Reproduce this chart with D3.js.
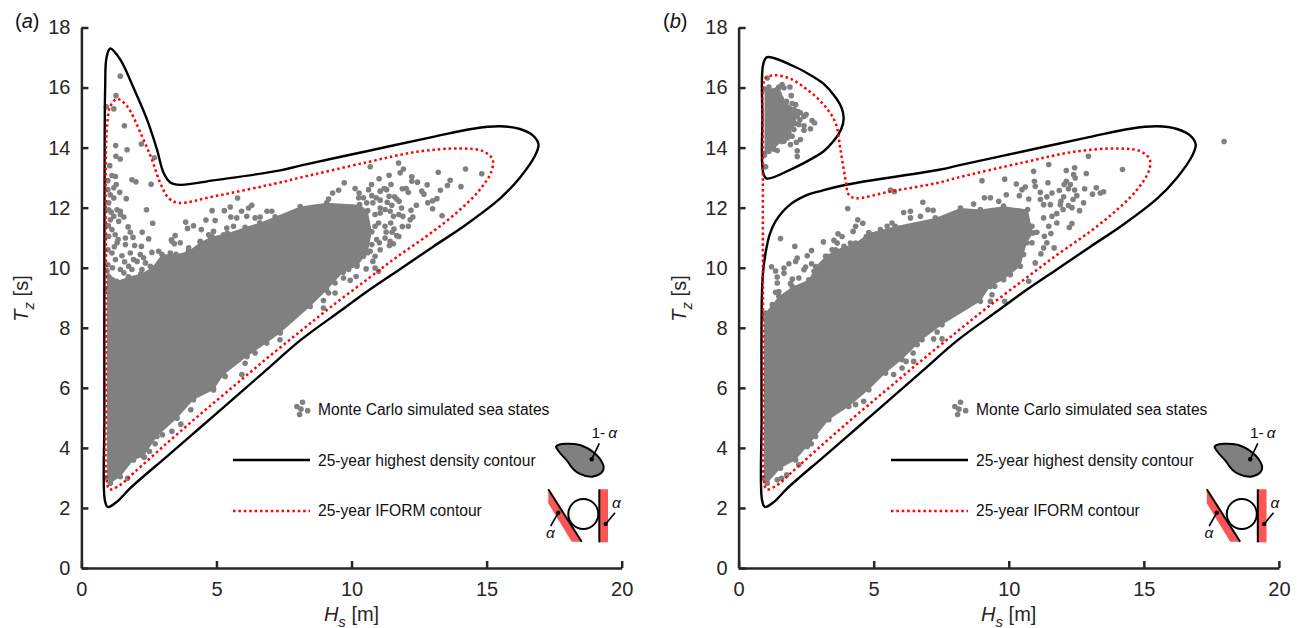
<!DOCTYPE html>
<html><head><meta charset="utf-8">
<script src="https://cdn.jsdelivr.net/npm/d3@7"></script>
<style>html,body{margin:0;padding:0;background:#fff;overflow:hidden}svg{display:block}text{font-family:"Liberation Sans",Arial,sans-serif}</style>
</head><body><svg id="c" width="1301" height="628"></svg>
<script>
const xTicks=[0,5,10,15,20], yTicks=[0,2,4,6,8,10,12,14,16,18];
const legendLabels=["Monte Carlo simulated sea states","25-year highest density contour","25-year IFORM contour"];
const legendDots=[[8.18,5.52],[7.97,5.38],[8.37,5.24],[8.12,5.29],[8.07,5.11]];

const hdcA=[[.98,2.03],[.87,2.25],[.85,5],[.85,10],[.86,14],[.88,16],[.93,17],[1.07,17.3],[1.44,16.93],[1.93,15.99],[2.43,14.93],[2.8,13.93],[3.04,13.16],[3.29,12.84],[3.66,12.76],[4.89,12.91],[7.36,13.24],[8.1,13.4],[10.56,13.88],[13.02,14.36],[14.5,14.63],[15.49,14.71],[16.23,14.62],[16.72,14.4],[16.92,14.1],[16.78,13.71],[16.23,13.0],[15.49,12.3],[14.26,11.45],[13.02,10.7],[11.79,9.95],[10.56,9.2],[9.57,8.55],[8.1,7.58],[6.85,6.6],[5.62,5.63],[4.4,4.68],[3.17,3.72],[1.81,2.66],[1.32,2.21]];
const iformA=[[1.04,2.62],[.93,3],[.91,6],[.91,10],[.91,14],[.97,14.93],[1.07,15.38],[1.32,15.62],[1.69,15.38],[2.24,14.38],[2.61,13.6],[2.92,12.82],[3.23,12.32],[3.6,12.16],[4.88,12.37],[7.36,12.84],[8.1,13],[10.56,13.51],[12.41,13.86],[14.01,13.97],[14.87,13.88],[15.22,13.6],[15.18,13.21],[14.75,12.6],[14.01,11.93],[13.02,11.21],[11.79,10.43],[10.56,9.6],[9.2,8.67],[8.1,7.88],[6.85,6.97],[5.63,6.05],[4.4,5.12],[3.17,4.16],[1.93,3.16],[1.44,2.77]];
const hdcBMain=[[.98,2.03],[.87,2.25],[.85,5],[.86,9],[.9,9.8],[1.0,10.5],[1.15,11.1],[1.37,11.55],[1.86,12.07],[2.48,12.4],[3.1,12.57],[4.02,12.77],[7.47,13.27],[8.1,13.4],[10.56,13.88],[13.02,14.36],[14.5,14.63],[15.49,14.71],[16.23,14.62],[16.72,14.4],[16.92,14.1],[16.78,13.71],[16.23,13.0],[15.49,12.3],[14.26,11.45],[13.02,10.7],[11.79,9.95],[10.56,9.2],[9.57,8.55],[8.1,7.58],[6.85,6.6],[5.62,5.63],[4.4,4.68],[3.17,3.72],[1.81,2.66],[1.32,2.21]];
const hdcBIsland=[[1.06,17.01],[2.04,16.71],[2.65,16.42],[3.15,16.12],[3.55,15.72],[3.8,15.35],[3.89,14.99],[3.8,14.62],[3.5,14.2],[3.15,13.88],[2.65,13.6],[2.04,13.32],[1.04,12.97],[.91,13.16],[.88,15],[.91,16.77]];
const iformB=[[1.04,2.62],[.93,3],[.91,6],[.9,10],[.9,14],[.91,16.04],[1.0,16.32],[1.37,16.41],[1.92,16.29],[2.54,15.93],[3.15,15.43],[3.59,14.82],[3.77,13.93],[3.96,12.93],[4.08,12.43],[4.33,12.32],[5.62,12.54],[7.35,12.82],[8.1,13],[10.56,13.51],[12.41,13.86],[14.01,13.97],[14.87,13.88],[15.22,13.6],[15.18,13.21],[14.75,12.6],[14.01,11.93],[13.02,11.21],[11.79,10.43],[10.56,9.6],[9.2,8.67],[8.1,7.88],[6.85,6.97],[5.63,6.05],[4.4,5.12],[3.17,4.16],[1.93,3.16],[1.44,2.77]];

const denseA=[[.95,9.9],[1.3,9.55],[1.74,9.7],[2.2,9.8],[2.61,10.0],[2.98,10.45],[3.5,10.45],[3.96,10.55],[4.4,10.85],[4.83,11.04],[5.4,11.15],[6.06,11.35],[6.6,11.5],[7.17,11.7],[8.1,12.04],[9.08,12.16],[10.3,12.1],[10.6,11.9],[10.75,11.2],[10.6,10.5],[10.2,10.05],[9.69,9.85],[9.08,9.25],[8.47,8.71],[7.36,7.83],[6.86,7.49],[6.13,7.04],[5.26,6.43],[4.89,5.93],[4.15,5.6],[3.54,4.99],[2.8,4.38],[2.3,3.71],[1.93,3.6],[1.44,3.04],[1.07,2.82],[.95,3]];
const denseB=[[.94,8.3],[.99,8.49],[1.49,9.05],[1.99,9.37],[2.6,9.6],[2.85,10.04],[3.22,10.38],[3.59,10.6],[4.33,10.82],[4.82,11.16],[5.8,11.38],[7.28,11.66],[8.21,11.99],[8.95,11.94],[9.81,12.05],[10.7,11.94],[10.9,11.16],[10.67,10.83],[10.43,10.05],[9.81,9.6],[9.32,9.38],[8.95,8.88],[7.53,8.1],[6.79,7.6],[6.05,6.94],[5.44,6.49],[4.82,5.94],[4.08,5.38],[3.34,4.94],[2.85,4.38],[2.11,3.6],[1.55,3.32],[1.06,2.82],[.94,3]];
const denseIsland=[[.96,15.95],[1.5,16.0],[1.75,15.5],[2.2,15.2],[2.1,14.8],[1.8,14.4],[1.6,14.2],[1.3,13.95],[.96,13.75]];

const pointsA=[[1.44,16.38],[1.28,15.73],[1.2,15.29],[.92,15.36],[1.59,14.73],[1.27,14.07],[1.69,13.93],[2.22,14.12],[1.28,13.71],[1.44,13.62],[2.7,13.66],[1.05,13.4],[1.13,13.07],[1.26,13.04],[1.87,12.93],[2.02,12.86],[2.58,12.78],[1.29,12.77],[1.2,12.66],[1.42,12.51],[1.07,12.43],[1.2,12.32],[1.66,12.3],[1.01,12.16],[1.32,11.93],[1.44,11.88],[1.57,11.69],[1.2,11.71],[1.01,11.93],[1.07,11.6],[2.41,11.93],[2.64,11.48],[1.73,11.36],[1.81,11.18],[2.25,11.18],[1.91,11.01],[2.49,10.96],[3.47,11.07],[3.33,10.93],[3.86,11.52],[3.93,11.31],[4.15,11.4],[4.44,11.27],[4.61,11.59],[4.95,11.57],[4.84,11.9],[5.29,11.9],[5.51,12.02],[5.78,12.32],[5.93,11.88],[6.19,11.99],[6.31,12.08],[6.62,11.69],[6.87,11.88],[7.05,11.88],[5.53,11.69],[5.75,11.66],[6.12,11.71],[6.43,11.66],[4.89,11.21],[5.38,11.32],[5.63,11.38],[5.26,11.1],[4.77,11.04],[1.63,10.99],[1.36,10.94],[1.32,10.83],[1.63,10.77],[1.97,10.74],[2.22,10.71],[1.81,10.49],[2.18,10.44],[1.93,10.27],[2.06,10.21],[2.3,10.33],[2.61,10.51],[2.86,10.55],[3.29,10.49],[3.35,10.88],[3.44,10.8],[3.66,10.83],[3.97,10.66],[4.4,10.88],[4.71,11.1],[2.55,10.05],[2.37,10.16],[1.87,9.94],[1.57,9.83],[1.44,9.94],[2.24,9.94],[1.13,10.49],[1.26,10.27],[1.01,11.05],[1.13,11.27],[1.38,11.55],[1.44,11.77],[.96,9.3],[1,9.7],[1.15,9.6],[1.3,9.5],[.98,10.1],[1.15,10],[.98,10.6],[1.22,10.7],[1,11.4],[1.25,11.1],[1.5,10.4],[1.6,10.2],[1.75,10.05],[.98,12.6],[.98,12.9],[1.1,11.85],
[11.74,13.49],[10.69,13.36],[11.92,13.29],[11.8,13.16],[11.39,13.08],[11.02,12.96],[12.23,13.03],[12.23,12.88],[13.21,13.18],[14.22,13.29],[14.82,13.13],[12.44,12.85],[12.8,12.76],[13.65,12.91],[13.55,12.74],[14.05,12.7],[13.29,12.58],[9.73,12.83],[9.52,12.58],[10.13,12.64],[9.3,12.49],[9.15,12.29],[10.28,12.49],[10.63,12.6],[10.74,12.77],[11.06,12.55],[11.21,12.64],[11.3,12.6],[11.46,12.77],[11.88,12.63],[12.02,12.64],[12.1,12.51],[12.6,12.55],[12.68,12.45],[13.16,12.3],[13,12.23],[12.82,12.16],[13,11.96],[12.4,12.08],[11.85,11.99],[13.35,11.73],[12.2,11.91],[12.27,11.69],[12.17,11.6],[11.9,11.71],[11.75,11.77],[11.59,12.36],[11.67,12.29],[11.76,12.21],[11.39,12.38],[11.32,12.18],[11.49,12.08],[10.75,12.4],[10.91,12.33],[11.06,12.25],[10.26,12.33],[10.44,12.33],[10.56,12.16],[10.79,12.16],[11.06,11.99],[11.24,11.94],[11.43,11.88],[10.87,11.77],[11.06,11.82],[11.55,11.71],[11,11.49],[10.87,11.38],[11.24,11.38],[11.45,11.49],[11.57,11.29],[11.88,11.37],[12.1,11.38],[11.28,11.19],[11.5,11.18],[11.67,11.07],[11.75,11.04],[11.24,10.99],[10.93,10.94],[11.03,10.83],[11.43,10.88],[11.4,10.74],[11.55,10.8],[10.75,10.77],[11.06,10.6],[10.69,10.55],[10.87,10.38],[10.79,10.21],[10.44,10.38],[10.2,10.1],[10.54,9.96],[10.87,9.99],[11,9.88],[10.17,9.71],[9.89,9.94],[9.7,9.94],[9.95,9.58],[9.7,9.66],[9.39,9.49],[9.15,9.16],[9.39,9.16],[8.96,8.91],[8.96,8.66],[8.47,8.94],
[7.35,7.6],[6.43,7.16],[6.06,6.82],[5.81,6.94],[5.94,6.44],[5.32,6.38],[4.89,5.99],[4.05,5.27],[3.68,4.79],[3.35,4.55],[3,4.44],[2.73,4.14],[2.52,3.88],[2.33,3.69],[1.71,2.99]];

const pointsB=[[17.97,14.2],[1.06,16.32],[1.12,16.02],[1.49,16.02],[1.61,16.1],[1.68,15.99],[1.9,16.02],[1.43,15.93],[1.95,15.73],[1.77,15.54],[1.98,15.47],[2.11,15.43],[2.05,15.27],[2.29,15.16],[2.5,15.1],[2.27,14.93],[2.23,14.77],[2.72,14.9],[2.81,14.82],[2.42,14.73],[2.66,14.63],[2.42,14.58],[1.98,14.77],[2.05,14.6],[1.86,14.51],[1.98,14.38],[2.29,14.27],[2.14,14.18],[1.8,14.32],[1.92,14.1],[1.68,14.21],[1.55,14.32],[1.43,13.9],[2.17,13.89],[2.17,13.7],[1.31,14.1],[1.24,13.99],[1,13.36],[1.12,13.88],[.96,13.8],[1.8,15.04],[2.17,15.04],[2.42,15.04],
[4.04,11.97],[5.62,12.59],[5.77,12.54],[6.82,12.18],[4.41,11.6],[4.6,11.48],[4.33,11.38],[4.24,11.21],[1.55,10.97],[3.68,11.13],[3.83,11.04],[4.73,11.04],[6.11,11.84],[6.36,11.88],[7.01,11.93],[7.2,11.91],[5.68,11.49],[6.73,11.71],[5.25,11.27],[5.5,11.38],[6.36,11.66],[2.08,10.71],[3.14,10.86],[3.53,10.91],[3.65,10.82],[4.14,10.82],[3.9,10.71],[2.7,10.57],[2.54,10.4],[2.17,10.32],[2.11,10.21],[2.7,10.13],[2.48,10.02],[1.86,10.13],[1.68,9.99],[1.22,10.03],[1.37,9.89],[1.68,9.82],[1.43,9.69],[1.43,9.49],[1.99,9.62],[2.23,9.66],[2.42,9.93],[1.92,9.47],[1.49,9.21],[1.37,9.18],[1.68,8.96],[1.8,8.82],[1.25,8.77],[2.79,9.88],[3.28,10.38],[3.46,10.6],[4.51,10.77],[4.82,11.16],
[12.95,13.71],[11.48,13.44],[14.21,13.27],[10.92,13.21],[12.13,13.24],[12.44,13.33],[12.87,13.14],[12.4,13.1],[12.46,12.99],[9.01,12.9],[9.85,12.95],[10.28,12.79],[10.95,12.88],[10.98,12.71],[11.45,12.83],[12.13,12.88],[12.28,12.77],[12.05,12.77],[12.81,12.63],[13.24,12.66],[13.51,12.53],[13.39,12.49],[13.1,12.45],[12.44,12.59],[12.21,12.63],[11.87,12.57],[11.17,12.51],[10.61,12.69],[10.49,12.6],[10.39,12.4],[9.91,12.43],[9.1,12.33],[9.32,12.33],[8.7,12.12],[9.63,12.21],[12.52,12.4],[12.38,12.27],[12.03,12.36],[11.93,12.21],[11.6,12.49],[11.41,12.36],[11.17,12.27],[10.74,12.29],[12.77,12.16],[12.21,12.07],[12.34,12],[11.91,12.1],[12.01,11.94],[12.62,11.9],[11.78,11.8],[11.54,12.1],[11.29,12.1],[11.6,11.71],[11.29,11.66],[11.78,11.49],[11.48,11.38],[12.34,11.47],[12.24,11.34],[11.56,11.14],[11.32,11.05],[11.41,10.83],[11.68,10.66],[11.29,10.66],[11.19,10.46],[10.98,10.16],[10.74,9.55],[10.55,10.44],[10.24,10.05],[9.75,9.66],[10.06,9.77],[9.48,9.38],[9.38,9.1],[9.85,8.88],[9.32,8.88],[8.91,8.96],[10.86,10.83],[11.04,11.18],[10.86,11.38],
[7.35,7.86],[7.22,7.63],[7.53,7.63],[6.61,7.44],[6.46,7.16],[6.48,6.88],[6.2,6.88],[6.05,6.66],[5.74,6.44],[4.63,5.55],[4.33,5.44],[2.69,4.14],[2.54,4.05],[2.23,3.44],[1.78,3.1],[1.59,2.99],[1.43,2.94]];

const GREY="#808080",INK="#262626",RED="#ff0000",PINK="#fb5555";
const svg=d3.select("#c");

function panel(o){
  const g=svg.append("g");
  const x=d3.scaleLinear().domain([0,20]).range(o.xr);
  const y=d3.scaleLinear().domain([0,18]).range([568,27.5]);
  const dots=g.append("g").attr("fill",GREY);
  const poly=d3.line().x(d=>x(d[0])).y(d=>y(d[1])).curve(d3.curveLinearClosed);
  o.dense.forEach(a=>{
    dots.append("path").attr("d",poly(a));
    dots.selectAll(null).data(a).join("circle").attr("cx",d=>x(d[0])).attr("cy",d=>y(d[1])).attr("r",2.8);
  });
  dots.selectAll(null).data(o.points).join("circle").attr("cx",d=>x(d[0])).attr("cy",d=>y(d[1])).attr("r",2.8);

  const smooth=d3.line().x(d=>x(d[0])).y(d=>y(d[1])).curve(d3.curveCatmullRomClosed.alpha(.5));
  o.black.forEach(a=>g.append("path").attr("d",smooth(a)).attr("fill","none").attr("stroke","#000").attr("stroke-width",2.4));
  g.append("path").attr("d",smooth(o.red)).attr("fill","none").attr("stroke",RED).attr("stroke-width",2.5).attr("stroke-dasharray","2.5 2.9");

  const ax=g.append("g").attr("transform","translate(0,568)").call(d3.axisBottom(x).tickValues(xTicks).tickSizeInner(-7).tickSizeOuter(0).tickPadding(14));
  const ay=g.append("g").attr("transform",`translate(${o.xr[0]},0)`).call(d3.axisLeft(y).tickValues(yTicks).tickSizeInner(-7).tickSizeOuter(0).tickPadding(11));
  [ax,ay].forEach(a=>{
    a.selectAll(".domain,.tick line").attr("stroke",INK).attr("stroke-width",2.5);
    a.selectAll("text").attr("fill",INK).attr("font-size",20).attr("font-family",'"Liberation Sans",Arial,sans-serif');
  });

  const xl=g.append("text").attr("x",x(10)).attr("y",621).attr("text-anchor","middle").attr("font-size",20).attr("fill",INK);
  xl.append("tspan").attr("font-style","italic").text("H");
  xl.append("tspan").attr("font-style","italic").attr("font-size",15).attr("dy",6).text("s");
  xl.append("tspan").attr("dy",-6).text(" [m]");
  const yl=g.append("text").attr("transform",`translate(${o.xr[0]-53},298.5) rotate(-90)`).attr("text-anchor","middle").attr("font-size",20).attr("fill",INK);
  yl.append("tspan").attr("font-style","italic").text("T");
  yl.append("tspan").attr("font-style","italic").attr("font-size",15).attr("dy",6).text("z");
  yl.append("tspan").attr("dy",-6).text(" [s]");

  const pl=g.append("text").attr("x",o.tx).attr("y",28).attr("font-size",20).attr("fill","#111");
  pl.append("tspan").text("(");pl.append("tspan").attr("font-style","italic").text(o.tag);pl.append("tspan").text(")");

  const lg=g.append("g").attr("transform",`translate(${o.lx},0)`);
  const px=d3.scaleLinear().domain([0,20]).range([81.7,621.7]);
  lg.append("g").attr("fill",GREY).selectAll("circle").data(legendDots).join("circle").attr("cx",d=>px(d[0])).attr("cy",d=>y(d[1])).attr("r",2.8);
  lg.append("line").attr("x1",233).attr("x2",310).attr("y1",460).attr("y2",460).attr("stroke","#000").attr("stroke-width",2.4);
  lg.append("line").attr("x1",233).attr("x2",310).attr("y1",511).attr("y2",511).attr("stroke",RED).attr("stroke-width",2.5).attr("stroke-dasharray","2.5 2.9");
  [415,466,516].forEach((yy,i)=>lg.append("text").attr("x",318).attr("y",yy).attr("font-size",15.6).attr("fill","#111").text(legendLabels[i]));

  const ic=g.append("g").attr("transform",`translate(${o.ix},0)`);
  ic.append("path").attr("d","M556,446.7C558,443 572,443 580,445C590,448 600,456 603.3,465C605,471 601,475 592,476.7C584,477 575,473 570,465C567,459 558,453 556,446.7Z").attr("fill",GREY).attr("stroke","#000").attr("stroke-width",2);
  ic.append("path").attr("d","M548.3,489.3L548.3,503.3L571.7,541.7L581.7,541.7Z").attr("fill",PINK);
  ic.append("rect").attr("x",599.3).attr("y",489.3).attr("width",8.7).attr("height",53).attr("fill",PINK);
  ic.append("line").attr("x1",548.3).attr("y1",489.3).attr("x2",581.7).attr("y2",541.7).attr("stroke","#000").attr("stroke-width",2);
  ic.append("line").attr("x1",599.3).attr("y1",489.3).attr("x2",599.3).attr("y2",542.3).attr("stroke","#000").attr("stroke-width",2);
  ic.append("circle").attr("cx",583.3).attr("cy",514).attr("r",15).attr("fill","#fff").attr("stroke","#000").attr("stroke-width",2);
  [[591.7,459.3,599.3,443.3],[558.3,512.7,550.7,526],[605.7,524,615,512.7]].forEach(d=>{
    ic.append("line").attr("x1",d[0]).attr("y1",d[1]).attr("x2",d[2]).attr("y2",d[3]).attr("stroke","#000").attr("stroke-width",1.6);
    ic.append("circle").attr("cx",d[0]).attr("cy",d[1]).attr("r",2.2).attr("fill","#000");
  });
  const t1=ic.append("text").attr("x",591.5).attr("y",438).attr("font-size",15.5).attr("fill","#111");
  t1.append("tspan").text("1-");t1.append("tspan").attr("font-style","italic").attr("dx",3).text("α");
  ic.append("text").attr("x",546).attr("y",538).attr("font-size",15.5).attr("font-style","italic").attr("fill","#111").text("α");
  ic.append("text").attr("x",612).attr("y",508).attr("font-size",15.5).attr("font-style","italic").attr("fill","#111").text("α");
}

panel({xr:[81.4,621.7],tag:"a",tx:15,dense:[denseA],points:pointsA,black:[hdcA],red:iformA,lx:0,ix:0});
panel({xr:[738.6,1278.9],tag:"b",tx:663,dense:[denseB,denseIsland],points:pointsB,black:[hdcBMain,hdcBIsland],red:iformB,lx:658,ix:658.5});
</script></body></html>
